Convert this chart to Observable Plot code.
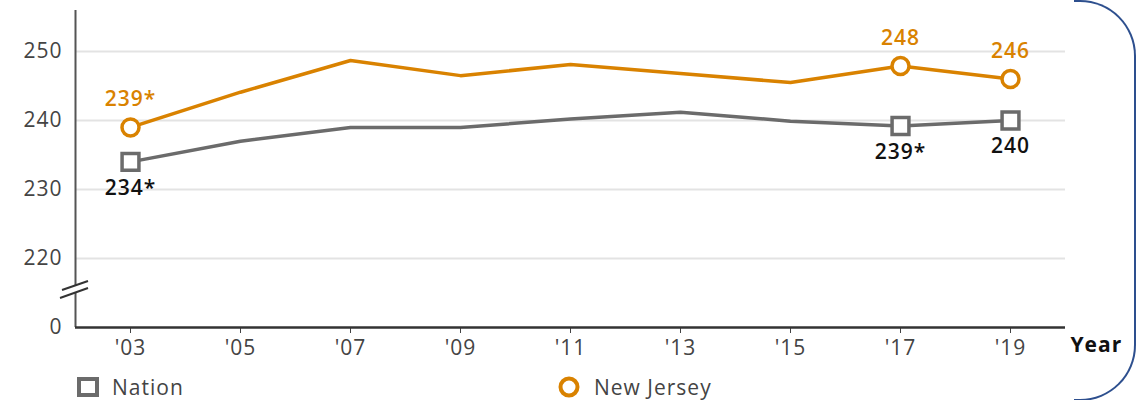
<!DOCTYPE html>
<html>
<head>
<meta charset="utf-8">
<script src="https://cdn.jsdelivr.net/npm/d3@7"></script>
<script src="https://cdn.jsdelivr.net/npm/@observablehq/plot@0.6"></script>
<style>
  html, body { margin: 0; padding: 0; background: #fff; }
  #wrap { position: relative; width: 1148px; height: 400px; overflow: hidden; font-family: 'Open Sans', sans-serif; }
  .legend-item { position: absolute; top: 373px; display: flex; align-items: center; font-size: 21px; letter-spacing: 1px; color: #444; }
  .legend-item svg { margin-right: 12px; }
  #border { position: absolute; left: 1074px; top: 0px; width: 60px; height: 397px; border: 2px solid #2d4f8e; border-left: none; border-radius: 0 56px 56px 0; }
</style>
</head>
<body>
<div id="wrap">
  <div id="chart"></div>
  <div class="legend-item" style="left:76px"><svg width="24" height="22"><rect x="3" y="3" width="18" height="16" fill="#fff" stroke="#6b6b6b" stroke-width="4"/></svg>Nation</div>
  <div class="legend-item" style="left:556px"><svg width="26" height="22"><circle cx="13" cy="11" r="8.5" fill="#fff" stroke="#d98200" stroke-width="4"/></svg>New Jersey</div>
  <div id="border"></div>
</div>
<script>
const years = [2003, 2005, 2007, 2009, 2011, 2013, 2015, 2017, 2019];
const nation = [234, 237, 239, 239, 240.2, 241.2, 239.9, 239.2, 240];
const newJersey = [239, 244.1, 248.7, 246.5, 248.1, 246.8, 245.5, 247.9, 246];
const nationLabels = ["234*", "", "", "", "", "", "", "239*", "240"];
const njLabels = ["239*", "", "", "", "", "", "", "248", "246"];
const yTicks = [210, 220, 230, 240, 250];
const gridValues = [220, 230, 240, 250];
const yBreak = 215.5;

const orange = "#d98200";
const gray = "#6b6b6b";

const nationData = years.map((year, i) => ({year, value: nation[i], label: nationLabels[i]}));
const njData = years.map((year, i) => ({year, value: newJersey[i], label: njLabels[i]}));

const breakMark = (index, scales, values, dimensions) => {
  const x = scales.x(2002);
  const y = scales.y(yBreak);
  const g = d3.create("svg:g");
  g.append("path")
    .attr("d", `M${x-15},${y+9} L${x+13},${y-1} L${x+13},${y-8} L${x-13},${y+1} Z`)
    .attr("fill", "#fff");
  g.append("line").attr("x1", x-15).attr("y1", y+9).attr("x2", x+13).attr("y2", y-1)
    .attr("stroke", "#333").attr("stroke-width", 2);
  g.append("line").attr("x1", x-13).attr("y1", y+1).attr("x2", x+13).attr("y2", y-8)
    .attr("stroke", "#333").attr("stroke-width", 2);
  return g.node();
};

const chart = Plot.plot({
  width: 1148,
  height: 372,
  marginLeft: 75,
  marginRight: 83,
  marginTop: 10,
  marginBottom: 45,
  style: {fontFamily: "'Open Sans', sans-serif", fontSize: "21px", letterSpacing: "1px", color: "#444", background: "#fff"},
  x: {domain: [2002, 2020], ticks: years, tickFormat: d => "'" + String(d).slice(2), tickSize: 6, tickPadding: 7, label: null},
  y: {domain: [210, 255.94], ticks: yTicks, tickFormat: d => d === 210 ? "0" : String(d), tickSize: 0, tickPadding: 13, label: null},
  marks: [
    Plot.ruleY(gridValues, {stroke: "#e3e3e3", strokeWidth: 2}),
    Plot.ruleX([2002], {y1: 210, y2: 255.94, stroke: "#555", strokeWidth: 2}),
    Plot.ruleY([210], {stroke: "#333", strokeWidth: 2.5}),
    breakMark,
    Plot.line(nationData, {x: "year", y: "value", stroke: gray, strokeWidth: 3.5}),
    Plot.line(njData, {x: "year", y: "value", stroke: orange, strokeWidth: 3.5}),
    Plot.dot(nationData.filter(d => d.label), {x: "year", y: "value", symbol: "square", r: 9.5, stroke: gray, strokeWidth: 3.5, fill: "#fff"}),
    Plot.dot(njData.filter(d => d.label), {x: "year", y: "value", r: 8.5, stroke: orange, strokeWidth: 3.5, fill: "#fff"}),
    Plot.text(nationData.filter(d => d.label), {x: "year", y: "value", text: "label", dy: 26, fill: "#111", fontWeight: 600, fontSize: 21}),
    Plot.text(njData.filter(d => d.label), {x: "year", y: "value", text: "label", dy: -28, fill: orange, fontWeight: 600, fontSize: 21}),
    Plot.text(["Year"], {frameAnchor: "bottom-right", textAnchor: "start", dx: 5, dy: 24, fontWeight: "bold", fill: "#111", fontSize: 21})
  ]
});
document.getElementById("chart").appendChild(chart);
</script>
</body>
</html>
